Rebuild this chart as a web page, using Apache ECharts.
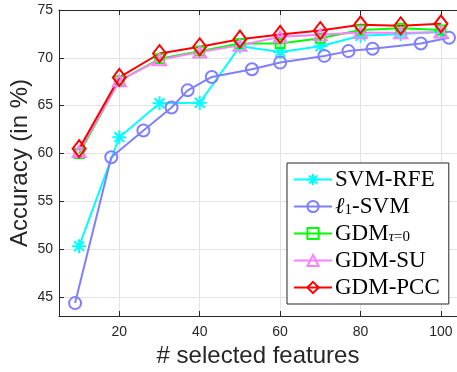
<!DOCTYPE html>
<html>
<head>
<meta charset="utf-8">
<script src="https://cdn.jsdelivr.net/npm/echarts@6/dist/echarts.min.js"></script>
<style>html,body{margin:0;padding:0;background:#fff;}#c{width:457px;height:372px;}</style>
</head>
<body>
<div id="c"></div>
<script>
// ---- data ----
const featX = [10, 20, 30, 40, 50, 60, 70, 80, 90, 100];
const svmRfe = [50.3, 61.7, 65.25, 65.3, 71.2, 70.6, 71.2, 72.3, 72.5, 72.7];
const l1X = [9, 18, 26, 33, 37, 43, 53, 60, 71, 77, 83, 95, 102];
const l1Svm = [44.35, 59.6, 62.4, 64.8, 66.6, 68.0, 68.8, 69.5, 70.2, 70.7, 70.95, 71.5, 72.1];
const gdmT0 = [60.0, 67.6, 69.9, 70.7, 71.5, 71.5, 72.05, 72.9, 73.1, 72.9];
const gdmSu = [60.2, 67.6, 69.8, 70.6, 71.3, 72.2, 72.4, 72.65, 72.6, 72.7];
const gdmPcc = [60.5, 67.95, 70.45, 71.15, 71.95, 72.45, 72.85, 73.45, 73.35, 73.55];
const xTicks = [20, 40, 60, 80, 100];
const yTicks = [45, 50, 55, 60, 65, 70, 75];
const seriesNames = ['SVM-RFE', 'ℓ1-SVM', 'GDMτ=0', 'GDM-SU', 'GDM-PCC'];

const pair = (xs, ys) => xs.map((x, i) => [x, ys[i]]);
const axisCol = '#262626';
const gridCol = '#e3e3e3';
const star = 'path://M0,-10L0,10M-10,0L10,0M-7.07,-7.07L7.07,7.07M-7.07,7.07L7.07,-7.07';

function mk(name, data, color, symbol, size) {
  return {
    name: name, type: 'line', data: data,
    symbol: symbol, symbolSize: size, showSymbol: true,
    lineStyle: {color: color, width: 2},
    itemStyle: {color: 'rgba(255,255,255,0)', borderColor: color, borderWidth: 2},
    emphasis: {disabled: true},
    animation: false
  };
}

const serif = '"Liberation Serif", "DejaVu Serif", serif';
const chart = echarts.init(document.getElementById('c'), null, {renderer: 'canvas'});
chart.setOption({
  animation: false,
  grid: {left: 59, top: 10, right: 0, bottom: 56, containLabel: false, outerBoundsMode: 'none'},
  xAxis: [{
    type: 'value', min: 5, max: 104,
    name: '# selected features', nameLocation: 'middle', nameGap: 28, nameMoveOverlap: false,
    nameTextStyle: {fontFamily: '"Liberation Sans", Arial, sans-serif', fontSize: 24, color: axisCol},
    axisLine: {show: true, lineStyle: {color: axisCol, width: 1}},
    axisTick: {show: true, inside: true, length: 5, customValues: xTicks, lineStyle: {color: axisCol}},
    axisLabel: {customValues: xTicks, fontFamily: '"Liberation Sans", Arial, sans-serif', fontSize: 14, color: axisCol, margin: 9},
    splitLine: {show: true, lineStyle: {color: gridCol, width: 1}}
  }, {
    type: 'value', min: 5, max: 104, position: 'top',
    axisLine: {show: true, onZero: false, lineStyle: {color: axisCol, width: 1}},
    axisTick: {show: true, inside: true, length: 5, customValues: xTicks, lineStyle: {color: axisCol}},
    axisLabel: {show: false},
    splitLine: {show: false}
  }],
  yAxis: {
    type: 'value', min: 43, max: 75,
    name: 'Accuracy (in %)', nameLocation: 'middle', nameGap: 27, nameMoveOverlap: false,
    nameTextStyle: {fontFamily: '"Liberation Sans", Arial, sans-serif', fontSize: 24, color: axisCol},
    axisLine: {show: true, lineStyle: {color: axisCol, width: 1}},
    axisTick: {show: true, inside: true, length: 5, customValues: yTicks, lineStyle: {color: axisCol}},
    axisLabel: {customValues: yTicks, fontFamily: '"Liberation Sans", Arial, sans-serif', fontSize: 14, color: axisCol, margin: 6},
    splitLine: {show: true, lineStyle: {color: gridCol, width: 1}}
  },
  legend: {
    orient: 'vertical', left: 287, top: 163,
    backgroundColor: '#fff', borderColor: axisCol, borderWidth: 1,
    padding: [5, 9, 5, 6], itemGap: 4, itemWidth: 38, itemHeight: 14,
    data: seriesNames,
    formatter: function (n) {
      if (n === 'ℓ1-SVM') return '{it|ℓ}{s|1}{n|-SVM}';
      if (n === 'GDMτ=0') return '{n|GDM}{si|τ}{s|=0}';
      return '{n|' + n + '}';
    },
    textStyle: {
      color: '#000', fontFamily: serif, fontSize: 23, padding: [0, 0, 0, -2],
      rich: {
        n: {fontFamily: serif, fontSize: 23, lineHeight: 23, color: '#000'},
        it: {fontFamily: serif, fontSize: 23, lineHeight: 23, fontStyle: 'italic', color: '#000'},
        s: {fontFamily: serif, fontSize: 15, lineHeight: 15, verticalAlign: 'bottom', color: '#000'},
        si: {fontFamily: serif, fontSize: 15, lineHeight: 15, verticalAlign: 'bottom', fontStyle: 'italic', color: '#000'}
      }
    }
  },
  series: [
    mk(seriesNames[0], pair(featX, svmRfe), '#00ffff', star, 14),
    mk(seriesNames[1], pair(l1X, l1Svm), '#7f7fff', 'circle', 12),
    mk(seriesNames[2], pair(featX, gdmT0), '#00ff00', 'rect', 9),
    mk(seriesNames[3], pair(featX, gdmSu), '#ff80ff', 'triangle', [13, 11]),
    mk(seriesNames[4], pair(featX, gdmPcc), '#ff0000', 'diamond', [13, 17])
  ]
});
</script>
</body>
</html>
